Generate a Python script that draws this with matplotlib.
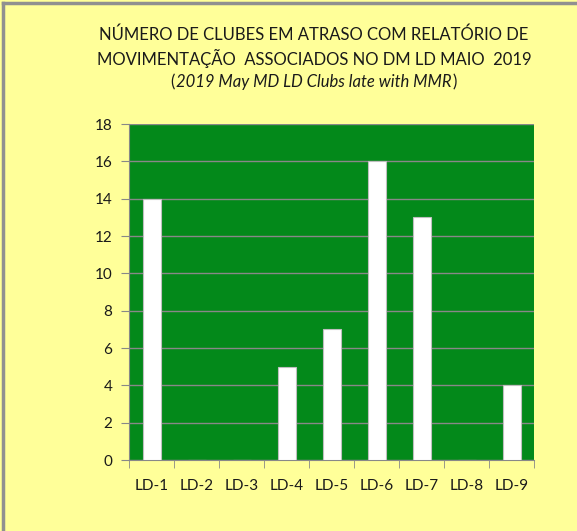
import numpy as np
import matplotlib.pyplot as plt
from matplotlib.lines import Line2D

categories = ['LD-1', 'LD-2', 'LD-3', 'LD-4', 'LD-5', 'LD-6', 'LD-7', 'LD-8', 'LD-9']
clubs_late = [14, 0, 0, 5, 7, 16, 13, 0, 4]
y_ticks = [0, 2, 4, 6, 8, 10, 12, 14, 16, 18]

bg = '#FFFF99'
green = '#03891A'
grey = '#888888'
txt = '#1a1a1a'

plt.rcParams['font.family'] = ['Lato', 'DejaVu Sans']

fig = plt.figure(figsize=(5.77, 5.31), dpi=100, facecolor=bg)
ax = fig.add_axes([129/577, 1 - 460/531, (534 - 129)/577, (460 - 124)/531])
ax.set_facecolor(green)

x = np.arange(len(categories))
ax.bar(x, clubs_late, width=0.4, color='white', edgecolor='#BFBFBF', linewidth=0.8, zorder=3)

ax.set_xlim(-0.5, len(categories) - 0.5)
ax.set_ylim(0, 18)
ax.set_yticks(y_ticks)
ax.yaxis.grid(True, color=grey, linewidth=1, zorder=1)
ax.set_axisbelow(True)

ax.set_xticks(x)
ax.set_xticklabels(categories)
ax.set_xticks(np.arange(-0.5, len(categories)), minor=True)
ax.tick_params(axis='x', which='major', length=0, pad=14, labelsize=11, labelcolor=txt)
ax.tick_params(axis='x', which='minor', length=6, color=grey)
ax.tick_params(axis='y', length=6, color=grey, labelsize=11, pad=6, labelcolor=txt)

for side in ['top', 'right']:
    ax.spines[side].set_visible(False)
ax.spines['left'].set_color(grey)
ax.spines['bottom'].set_color(grey)

# title, three lines
cx = 314 / 577
fig.text(cx, 1 - 35/531, 'NÚMERO DE CLUBES EM ATRASO COM RELATÓRIO DE',
         ha='center', va='center', fontsize=12, color=txt)
fig.text(cx, 1 - 58/531, 'MOVIMENTAÇÃO  ASSOCIADOS NO DM LD MAIO  2019',
         ha='center', va='center', fontsize=12, color=txt)
sub = fig.text(cx, 1 - 82/531, '2019 May MD LD Clubs late with MMR', ha='center', va='center',
               fontsize=12, style='italic', color=txt)
fig.canvas.draw()
bb = sub.get_window_extent()
fig.text(bb.x0 / fig.bbox.width - 0.002, 1 - 82/531, '(', ha='right', va='center',
         fontsize=12, color=txt)
fig.text(bb.x1 / fig.bbox.width + 0.002, 1 - 82/531, ')', ha='left', va='center',
         fontsize=12, color=txt)

# outer frame (top and left edges visible)
fig.add_artist(Line2D([3/577, 3/577], [0, 1 - 3/531], color='#909090', linewidth=2.5))
fig.add_artist(Line2D([3/577, 1], [1 - 3/531, 1 - 3/531], color='#909090', linewidth=2.5))

fig.savefig('out.png', dpi=100, facecolor=bg)
